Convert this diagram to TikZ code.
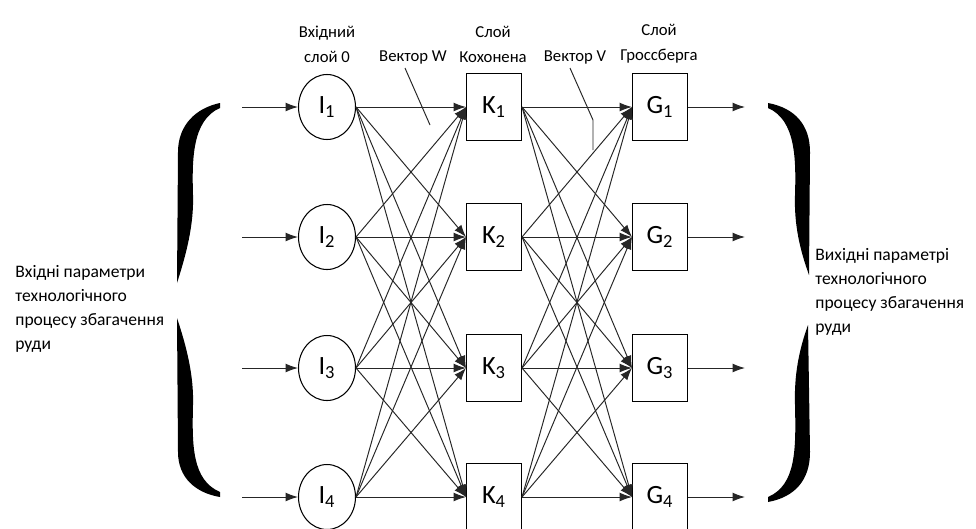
\documentclass[tikz,border=0pt]{standalone}
\usepackage{fontspec}
\setmainfont{Carlito}
\usetikzlibrary{arrows.meta,shapes.geometric,calc}
\begin{document}
\begin{tikzpicture}[x=0.02cm,y=-0.02cm,
  conn/.style={draw=black!85, line width=0.55pt},
  arr/.style={conn,-{Latex[length=7pt,width=5pt]}},
  inode/.style={ellipse,draw,line width=0.6pt,minimum width=1.14cm,minimum height=1.3cm,inner sep=0pt,font=\fontsize{15}{15}\selectfont},
  bnode/.style={rectangle,draw,line width=0.6pt,minimum width=1.1cm,minimum height=1.34cm,inner sep=0pt,font=\fontsize{15}{15}\selectfont},
  lbl/.style={font=\fontsize{9.5}{14.2}\selectfont, align=center, inner sep=0pt},
  side/.style={font=\fontsize{10}{13.7}\selectfont, align=left, inner sep=0pt, anchor=north west}]
\useasboundingbox[fill=white] (0,0) rectangle (976,528);

\foreach \i/\y in {1/107,2/237,3/368,4/497}{
  \node[inode] (I\i) at (327,\y) {I\textsubscript{\i}};
  \node[bnode] (K\i) at (494,\y) {K\textsubscript{\i}};
  \node[bnode] (G\i) at (660,\y) {G\textsubscript{\i}};
  \coordinate (in\i) at (242,\y);
  \coordinate (out\i) at (745,\y);
}
\foreach \i in {1,...,4}{
  \draw[arr] (in\i) -- (I\i);
  \draw[arr] (G\i) -- (out\i);
  \foreach \j in {1,...,4}{
    \draw[arr] (I\i.east) -- (K\j.west);
    \draw[arr] (K\i.east) -- (G\j.west);
  }
}

% top labels
\node[lbl] (tIn) at (327,44) {Вхідний\\слой 0};
\node[lbl] (tK) at (493,44) {Слой\\Кохонена};
\node[lbl] (tG) at (659,44) {Слой\\Гроссберга};
\node[lbl] (vW) at (413,57) {Вектор W};
\node[lbl] (vV) at (575,57) {Вектор V};
\coordinate (wEnd) at (430,125);
\coordinate (vMid) at (593,120);
\coordinate (vEnd) at (593,150);
\draw[conn] ($(vW.south)+(-8,4)$) -- (wEnd);
\draw[conn] ($(vV.south)+(-5,4)$) -- (vMid) -- (vEnd);

% side texts
\node[side] (left) at (15,265) {Вхідні параметри\\технологічного\\процесу збагачення\\руди};
\node[side] (right) at (815,248) {Вихідні параметрі\\технологічного\\процесу збагачення\\руди};

% left brace
\fill (220,103) .. controls (196,108) and (178,125) .. (178,152) -- (177,283) .. controls (186,255) and (194,225) .. (193,195) .. controls (192,160) and (192,120) .. (220,108) -- cycle;
\fill (177,318) .. controls (186,345) and (194,375) .. (193,405) .. controls (192,445) and (192,480) .. (220,492) -- (220,497) .. controls (196,493) and (178,478) .. (178,452) -- cycle;
% right brace
\fill (768,103) .. controls (795,108) and (810,125) .. (810,152) -- (809,275) .. controls (800,250) and (794,225) .. (795,195) .. controls (796,160) and (796,120) .. (768,108) -- cycle;
\fill (808,325) .. controls (799,350) and (794,375) .. (795,405) .. controls (796,450) and (796,485) .. (768,497) -- (768,502) .. controls (795,497) and (810,480) .. (810,452) -- cycle;
\end{tikzpicture}
\end{document}
